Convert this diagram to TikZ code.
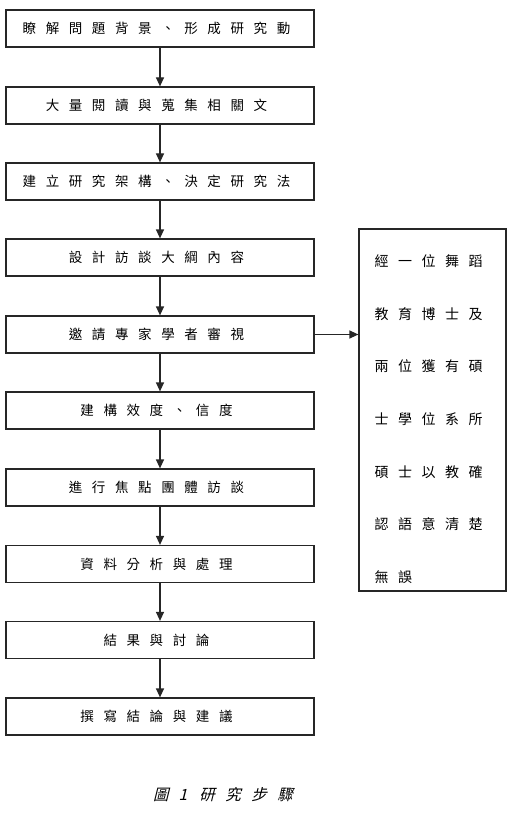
\documentclass[tikz,border=0pt]{standalone}
\usepackage{fontspec}
\setmainfont{Liberation Serif}
\newfontfamily\cjk{Noto Sans CJK TC}
\newfontfamily\cjkit[FakeSlant=0.25]{Noto Sans CJK TC}
\usetikzlibrary{arrows.meta,calc}
\newcommand\spx[2]{\def\spxgap{#1}\spxa#2\relax}
\def\spxa#1{#1\spxb}
\def\spxb#1{\ifx#1\relax\else\hskip\spxgap\relax #1\expandafter\spxb\fi}
\tikzset{
  stepbox/.style={draw=black!85, line width=1.2pt, minimum width=308pt, minimum height=37pt, inner sep=0pt,
    font=\fontsize{13.5}{15}\selectfont\cjk},
  notebox/.style={draw=black!85, line width=1.2pt, minimum width=147pt, minimum height=362pt, inner sep=0pt},
  notetext/.style={inner sep=0pt, align=left, font=\fontsize{14}{52.7}\selectfont\cjk},
  arr/.style={draw=black!85, line width=1.2pt, -{Triangle[width=8pt,length=9pt]}},
  captxt/.style={inner sep=0pt, font=\fontsize{15.5}{17}\selectfont}
}
\begin{document}
\begin{tikzpicture}[x=1pt,y=-1pt]
\useasboundingbox (0,0) rectangle (510,829);
\node[stepbox] (b1) at (160,28.5) {\spx{9.6pt}{瞭解問題背景、形成研究動}\kern7pt};
\node[stepbox] (b2) at (160,105.5) {\spx{9.6pt}{大量閱讀與蒐集相關文}\kern7pt};
\node[stepbox] (b3) at (160,181.5) {\spx{9.6pt}{建立研究架構、決定研究法}\kern7pt};
\node[stepbox] (b4) at (160,257.5) {\spx{9.6pt}{設計訪談大綱內容}\kern7pt};
\node[stepbox] (b5) at (160,334.5) {\spx{9.6pt}{邀請專家學者審視}\kern7pt};
\node[stepbox] (b6) at (160,410.5) {\spx{9.6pt}{建構效度、信度}\kern7pt};
\node[stepbox] (b7) at (160,487.5) {\spx{9.6pt}{進行焦點團體訪談}\kern7pt};
\node[stepbox] (b8) at (160,564) {\spx{9.6pt}{資料分析與處理}\kern7pt};
\node[stepbox] (b9) at (160,640) {\spx{9.6pt}{結果與討論}\kern7pt};
\node[stepbox] (b10) at (160,716.5) {\spx{9.6pt}{撰寫結論與建議}\kern7pt};
\node[notebox] (note) at (432.5,410) {};
\node[notetext, anchor=north west] (notet) at ($(note.north west)+(16,26)$) {%
\spx{9.5pt}{經一位舞蹈}\\
\spx{9.5pt}{教育博士及}\\
\spx{9.5pt}{兩位獲有碩}\\
\spx{9.5pt}{士學位系所}\\
\spx{9.5pt}{碩士以教確}\\
\spx{9.5pt}{認語意清楚}\\
\spx{9.5pt}{無誤}};
\node[captxt] (cap) at (223,795) {\cjkit 圖\hskip 10pt\itshape 1\hskip 12pt\cjkit\spx{10.5pt}{研究步驟}};
\foreach \a/\b in {b1/b2,b2/b3,b3/b4,b4/b5,b5/b6,b6/b7,b7/b8,b8/b9,b9/b10}
  \draw[arr] (\a.south) -- (\b.north);
\draw[arr] (b5.east) -- (note.west |- b5.east);
\end{tikzpicture}
\end{document}
